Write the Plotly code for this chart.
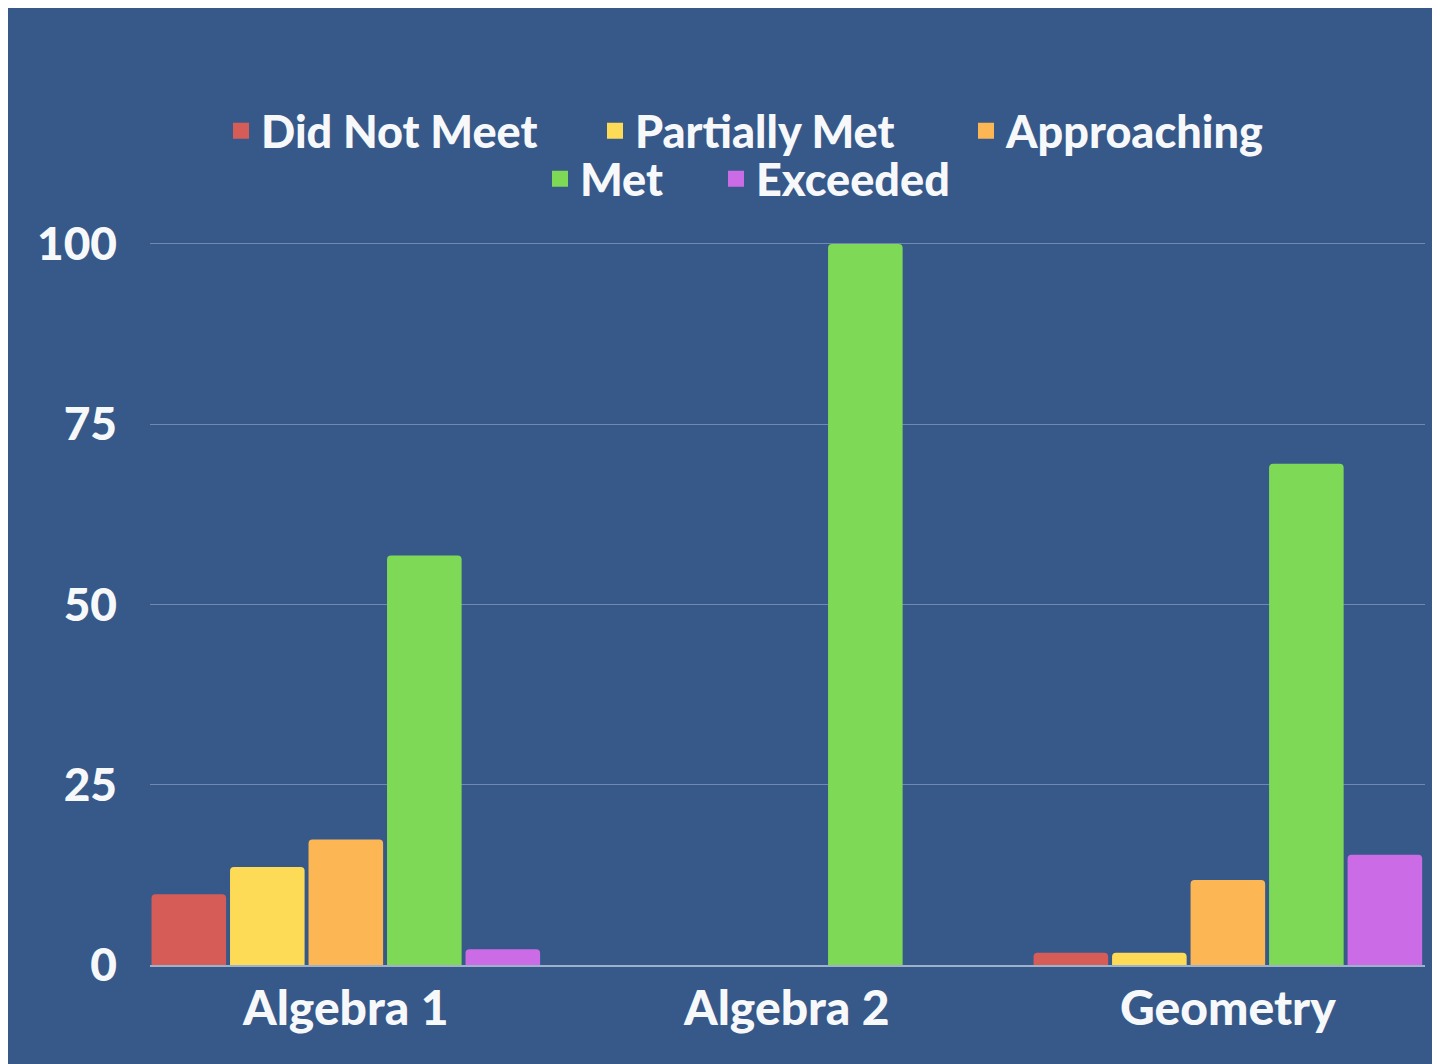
import plotly.graph_objects as go

categories = ["Algebra 1", "Algebra 2", "Geometry"]
series_names = ["Did Not Meet", "Partially Met", "Approaching", "Met", "Exceeded"]
did_not_meet = [9.8, 0, 1.7]
partially_met = [13.6, 0, 1.7]
approaching = [17.4, 0, 11.8]
met = [56.8, 100, 69.5]
exceeded = [2.2, 0, 15.3]
y_ticks = [0, 25, 50, 75, 100]

colors = ["#d65c58", "#fddb57", "#fdb654", "#7ed957", "#cb6ce6"]
values = [did_not_meet, partially_met, approaching, met, exceeded]

BG = "#36598a"
TXT = "#f7f8fa"
FONT = "Lato"

W, H = 1432, 1056
ml, mr, mt, mb = 142, 15, 233, 99

# legend layout: (legend id, text-left px, text-centre-y px) in figure pixels
legend_ids = ["legend", "legend2", "legend3", "legend4", "legend5"]
legend_text_x = [255, 629, 1000, 574, 750]
legend_text_y = [123, 123, 123, 171, 171]

fig = go.Figure()
for name, vals, col in zip(series_names, values, colors):
    fig.add_trace(go.Bar(
        x=categories, y=vals, name=name,
        marker=dict(color=col, line=dict(width=0)),
        showlegend=False,
    ))
# legend swatches (square keys)
for name, col, lg in zip(series_names, colors, legend_ids):
    fig.add_trace(go.Scatter(
        x=[None], y=[None], name=name, mode="markers",
        marker=dict(symbol="square", size=16, color=col),
        legend=lg, showlegend=True, hoverinfo="skip",
    ))

legend_font = dict(family=FONT, size=45, color=TXT, weight=900)
OFF = 42
legends = {}
for lg, tx, ty in zip(legend_ids, legend_text_x, legend_text_y):
    legends[lg] = dict(
        orientation="h", xref="container", yref="container",
        x=(tx - OFF) / W, xanchor="left",
        y=1 - ty / H, yanchor="middle",
        font=legend_font, bgcolor="rgba(0,0,0,0)", borderwidth=0,
        itemsizing="trace", itemclick=False, itemdoubleclick=False,
    )

fig.update_layout(
    width=W, height=H,
    paper_bgcolor=BG, plot_bgcolor=BG,
    margin=dict(l=ml, r=mr, t=mt, b=mb, autoexpand=False),
    barmode="group", bargap=0.11, bargroupgap=0.05,
    barcornerradius=4,
    font=dict(family=FONT, color=TXT),
    xaxis=dict(
        range=[-0.444, 2.447],
        showgrid=False, showline=True, linecolor="#9fb0c9", linewidth=2,
        tickfont=dict(family=FONT, size=48, color=TXT, weight=900),
        ticks="", ticklabelstandoff=0,
    ),
    yaxis=dict(
        range=[0, 100.4], tickvals=y_ticks,
        showgrid=True, gridcolor="#6f89b1", gridwidth=1,
        zeroline=False, showline=False,
        tickfont=dict(family=FONT, size=46, color=TXT, weight=900),
        ticks="", ticklabelstandoff=32,
    ),
    **legends,
)

fig.write_html("out.html")
